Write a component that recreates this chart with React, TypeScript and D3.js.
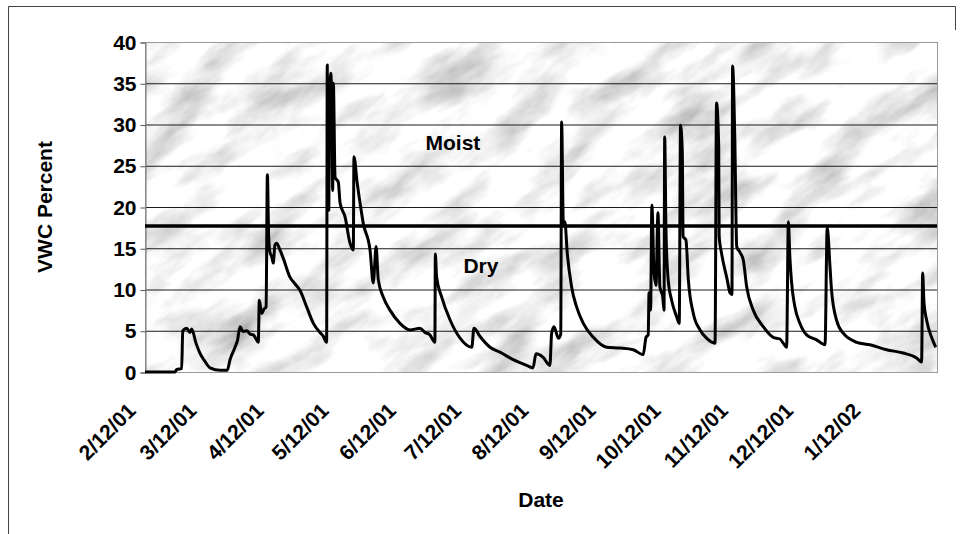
import React, { useEffect, useRef } from "react";
import * as d3 from "d3";

// x axis labels (one per month, starting 2/12/01)
const tickLabels = [
  "2/12/01", "3/12/01", "4/12/01", "5/12/01", "6/12/01", "7/12/01",
  "8/12/01", "9/12/01", "10/12/01", "11/12/01", "12/12/01", "1/12/02",
];

// days since 2/12/01
const dayOffsets = [
  0, 13.8, 14.6, 16.9, 17.4, 19.2, 20.7, 21.5, 23.5, 25.3, 27.6, 30.0, 34.6, 37.9,
  39.2, 41.5, 42.6, 43.8, 45.2, 46.9, 48.4, 49.9, 51.2, 52.2, 52.7, 53.8, 54.8, 55.8,
  56.4, 57.0, 57.6, 58.4, 59.1, 59.9, 60.7, 62.2, 63.7, 66.8, 69.1, 71.4, 74.5, 77.6,
  80.6, 82.0, 83.7, 84.0, 84.4, 84.7, 85.1, 85.6, 86.2, 86.5, 86.8, 87.6, 89.1, 89.9, 92.2, 94.5, 96.0,
  96.3, 97.8, 99.1, 100.6, 103.7, 105.2, 106.5, 107.5, 109.8, 112.9, 117.5, 122.1,
  126.7, 129.0, 131.3, 133.6, 133.8, 134.4, 136.7, 140.6, 145.2, 150.6, 151.6, 154.4,
  159.0, 163.6, 169.7, 175.9, 178.8, 180.2, 183.4, 186.6, 187.4, 188.5, 190.5, 191.6,
  192.0, 192.8, 193.5, 194.6, 196.6, 198.9, 202.0, 206.6, 212.8, 218.9, 225.0, 229.6,
  230.9, 231.9, 232.3, 233.0, 233.6, 234.6, 235.5, 236.4, 237.3, 238.6, 239.2, 239.5,
  240.1, 241.1, 242.7, 245.0, 246.2, 246.8, 247.6, 248.0, 249.3, 250.4, 252.7, 255.8,
  258.8, 262.7, 263.4, 264.4, 264.6, 265.7, 268.3, 269.6, 270.5, 270.8, 271.8, 272.7,
  274.2, 275.7, 277.3, 280.3, 284.9, 289.5, 292.6, 294.1, 295.7, 296.5, 297.2, 298.0,
  299.5, 301.8, 304.9, 309.5, 313.4, 314.4, 315.7, 316.4, 318.7, 321.8, 328.0, 334.1,
  341.8, 349.4, 355.6, 357.9, 358.4, 359.0, 360.2, 362.5, 364.4,
];

// volumetric water content, percent
const vwcValues = [
  0, 0, 0.3, 0.4, 5.0, 5.3, 4.8, 5.2, 3.5, 2.3, 1.3, 0.5, 0.2, 0.2,
  1.5, 3.0, 3.8, 5.5, 4.9, 5.0, 4.6, 4.5, 4.0, 3.6, 8.7, 7.1, 7.6, 7.9,
  23.9, 16.4, 14.5, 14.0, 13.2, 15.4, 15.6, 14.8, 13.8, 11.5, 10.7, 9.9, 7.9, 5.9,
  4.8, 4.4, 3.6, 37.2, 21.0, 19.6, 33.0, 36.2, 30.9, 22.0, 35.0, 23.6, 23.0, 20.5, 18.8, 15.6, 14.8,
  26.1, 22.9, 20.5, 18.0, 14.8, 10.8, 15.2, 11.2, 9.1, 7.5, 5.9, 5.1,
  5.3, 4.8, 4.5, 3.6, 14.3, 11.5, 9.1, 6.3, 4.1, 3.0, 5.3, 4.3,
  3.0, 2.4, 1.5, 0.8, 0.5, 2.2, 1.8, 0.8, 4.7, 5.5, 4.1, 4.6,
  30.3, 18.0, 18.2, 14.4, 10.3, 7.9, 5.9, 4.2, 3.0, 2.9, 2.7, 2.1,
  4.2, 4.5, 9.6, 7.5, 20.2, 12.0, 10.5, 19.3, 10.3, 9.1, 7.5, 28.5,
  17.2, 11.2, 8.7, 6.7, 5.9, 29.9, 26.9, 16.4, 16.0, 11.2, 7.1, 5.1,
  4.1, 3.5, 32.6, 27.3, 16.4, 14.4, 11.2, 9.6, 9.4, 37.1, 28.5, 15.2,
  14.5, 13.6, 10.3, 7.5, 5.5, 4.2, 4.0, 3.5, 3.0, 18.2, 13.9, 10.8,
  7.9, 5.9, 4.5, 3.9, 3.3, 17.5, 12.7, 9.9, 6.3, 4.7, 3.6, 3.3,
  2.7, 2.3, 1.7, 1.2, 12.0, 8.4, 6.3, 4.2, 3.0,
];

const yTicks = [0, 5, 10, 15, 20, 25, 30, 35, 40];
const threshold = 17.7;

const START = new Date(2001, 1, 12);
const END = new Date(2002, 1, 12);
const DAY = 86400000;
const FONT = "'Liberation Sans', Arial, sans-serif";

const VwcChart = () => {
  const ref = useRef<SVGSVGElement>(null);

  useEffect(() => {
    const svg = d3.select(ref.current);
    svg.selectAll("*").remove();

    const left = 145, right = 937, top = 42, bottom = 372;
    const x = d3.scaleTime().domain([START, END]).range([left, right]);
    const y = d3.scaleLinear().domain([0, 40]).range([bottom, top]);

    const data = dayOffsets.map((d, i) => ({
      date: new Date(START.getTime() + d * DAY),
      value: vwcValues[i],
    }));

    // outer frame
    svg.append("path")
      .attr("d", "M8.5,534 V6.5 H955.5 V30")
      .attr("fill", "none")
      .attr("stroke", "#444");

    // marble-ish background
    const defs = svg.append("defs");
    const f = defs.append("filter").attr("id", "marble")
      .attr("x", 0).attr("y", 0).attr("width", "100%").attr("height", "100%");
    f.append("feTurbulence")
      .attr("type", "fractalNoise")
      .attr("baseFrequency", "0.012 0.03")
      .attr("numOctaves", 5)
      .attr("seed", 11);
    f.append("feColorMatrix")
      .attr("type", "matrix")
      .attr("values", "1.15 0 0 0 0.35  1.15 0 0 0 0.35  1.15 0 0 0 0.35  0 0 0 0 1");
    defs.append("clipPath").attr("id", "plotClip")
      .append("rect")
      .attr("x", left).attr("y", top)
      .attr("width", right - left).attr("height", bottom - top);

    svg.append("g")
      .attr("clip-path", "url(#plotClip)")
      .append("rect")
      .attr("x", -200).attr("y", -600)
      .attr("width", 1400).attr("height", 1400)
      .attr("transform", `rotate(-32 ${(left + right) / 2} ${(top + bottom) / 2})`)
      .attr("filter", "url(#marble)");

    // gridlines
    svg.append("g")
      .selectAll("line")
      .data(yTicks.filter((t) => t > 0 && t < 40))
      .join("line")
      .attr("x1", left).attr("x2", right)
      .attr("y1", (d) => y(d) + 0.5).attr("y2", (d) => y(d) + 0.5)
      .attr("stroke", "#1a1a1a")
      .attr("stroke-width", 1);

    // plot border
    svg.append("rect")
      .attr("x", left + 0.5).attr("y", top + 0.5)
      .attr("width", right - left).attr("height", bottom - top)
      .attr("fill", "none")
      .attr("stroke", "#9a9a9a");

    // y axis
    const yAxis = d3.axisLeft(y).tickValues(yTicks).tickSize(5).tickPadding(4);
    const gy = svg.append("g")
      .attr("transform", `translate(${left + 0.5},0.5)`)
      .call(yAxis);
    gy.select(".domain").attr("stroke", "#777");
    gy.selectAll(".tick line").attr("stroke", "#555");
    gy.selectAll("text")
      .attr("font-family", FONT)
      .attr("font-size", 21)
      .attr("font-weight", "bold")
      .attr("fill", "#000");

    // threshold line
    svg.append("line")
      .attr("x1", left).attr("x2", right)
      .attr("y1", y(threshold)).attr("y2", y(threshold))
      .attr("stroke", "#000")
      .attr("stroke-width", 3.5);

    // VWC series
    const line = d3.line<{ date: Date; value: number }>()
      .x((d) => x(d.date))
      .y((d) => y(d.value))
      .curve(d3.curveMonotoneX);
    svg.append("path")
      .datum(data)
      .attr("d", line)
      .attr("fill", "none")
      .attr("stroke", "#000")
      .attr("stroke-width", 3)
      .attr("stroke-linejoin", "round");

    // x axis labels
    const tickDates = tickLabels.map((_, i) => new Date(2001, 1 + i, 12));
    svg.append("g")
      .selectAll("text")
      .data(tickDates)
      .join("text")
      .attr("transform", (d) => `translate(${x(d) - 8},${bottom + 40}) rotate(-45)`)
      .attr("text-anchor", "end")
      .attr("font-family", FONT)
      .attr("font-size", 21)
      .attr("font-weight", "bold")
      .text((_, i) => tickLabels[i]);

    // region labels
    const label = (txt: string, day: number, v: number) =>
      svg.append("text")
        .attr("x", x(new Date(START.getTime() + day * DAY)))
        .attr("y", y(v))
        .attr("text-anchor", "middle")
        .attr("font-family", FONT)
        .attr("font-size", 21)
        .attr("font-weight", "bold")
        .text(txt);
    label("Moist", 141.9, 26.9);
    label("Dry", 154.8, 12.0);

    // axis titles
    svg.append("text")
      .attr("x", (left + right) / 2)
      .attr("y", 507)
      .attr("text-anchor", "middle")
      .attr("font-family", FONT)
      .attr("font-size", 21)
      .attr("font-weight", "bold")
      .text("Date");

    svg.append("text")
      .attr("transform", `translate(52,${(top + bottom) / 2}) rotate(-90)`)
      .attr("text-anchor", "middle")
      .attr("font-family", FONT)
      .attr("font-size", 21)
      .attr("font-weight", "bold")
      .text("VWC Percent");
  }, []);

  return (
    <svg
      ref={ref}
      width={962}
      height={534}
      viewBox="0 0 962 534"
      style={{ position: "absolute", left: 0, top: 0, background: "#fff" }}
    />
  );
};

export default function App() {
  return <VwcChart />;
}
